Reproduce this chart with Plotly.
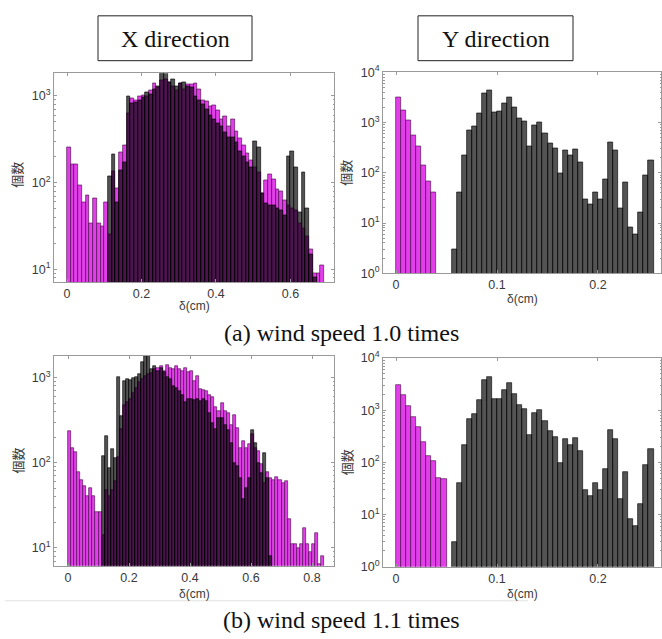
import numpy as np
import plotly.graph_objects as go

W, H = 662, 639

# ---------------- data ----------------
# X direction, bin width 0.01
x10_mag_start = 0.00
x10_mag = [256, 162, 162, 93, 59, 72, 34, 66, 34, 31, 59,
           25, 136, 86, 221, 272, 630, 930, 880, 980, 1020,
           1000, 1150, 1400, 1250, 1500, 1550, 1450, 1300, 1150, 1400,
           1200, 1350, 1350, 1380, 1200, 890, 860, 750, 780, 690,
           530, 580, 450, 530, 390, 320, 270, 215, 180, 150,
           130, 76, 105, 123, 108, 84, 80, 62, 55, 50,
           48, 34, 30, 24, 17, 9, 9, 11]
x10_blk_start = 0.11
x10_blk = [118, 210, 60, 140, 170, 1000, 820, 850, 900, 950,
           1100, 1050, 1200, 1300, 1800, 1900, 1450, 1550, 1300, 1400,
           1450, 1300, 1260, 1000, 890, 800, 700, 600, 530, 480,
           450, 380, 330, 330, 290, 230, 200, 170, 150, 300,
           255, 75, 58, 55, 55, 50, 48, 42, 200, 230,
           150, 45, 130, 50, 15, 8]

x11_mag_start = 0.00
x11_mag = [235, 150, 133, 78, 63, 53, 41, 50, 41, 26, 26,
           14, 48, 40, 48, 60, 116, 250, 470, 520, 565,
           650, 750, 880, 950, 1050, 1100, 1140, 1250, 1300, 1360,
           1200, 1400, 1300, 1250, 1350, 1250, 1200, 1300, 1150, 1190,
           920, 1040, 735, 720, 700, 620, 590, 450, 400, 500,
           400, 380, 280, 365, 255, 150, 180, 150, 165, 215,
           150, 138, 97, 57, 78, 66, 63, 68, 63, 57,
           60, 22, 11, 11, 10, 11, 17, 11, 9, 11,
           15, 6.4, 8]
x11_blk_start = 0.11
x11_blk = [121, 205, 86, 145, 112, 1000, 350, 900, 950, 930,
           980, 1000, 1100, 1500, 1800, 1900, 1250, 1350, 1200, 1300,
           1150, 1000, 950, 800, 750, 700, 620, 520, 560, 560,
           540, 560, 530, 565, 530, 380, 290, 245, 330, 330,
           280, 240, 170, 100, 90, 66, 37, 50, 66, 240,
           170, 100, 75, 130, 66, 8]

# Y direction, bin width 0.005
y_mag_start = 0.0
y10_mag = [3160, 1790, 1090, 560, 340, 138, 66, 40]
y11_mag = [3080, 1960, 1190, 730, 475, 245, 130, 104, 51, 47]
y_blk_start = 0.055
y_blk = [3, 40, 218, 690, 830, 1540, 3820, 4400, 1620, 1650,
         2460, 3250, 2050, 1240, 1070, 330, 870, 1000, 610, 390,
         300, 96, 274, 218, 290, 163, 29, 23, 41, 30,
         75, 410, 274, 20, 65, 8.1, 5.9, 16, 87, 177]

titles = ["X direction", "Y direction"]
captions = ["(a) wind speed 1.0 times", "(b) wind speed 1.1 times"]
xlabel = "δ(cm)"
ylabel = "個数"

# ---------------- styling ----------------
MAG = "#E23FEA"
MAG_LINE = "rgba(60,0,60,0.85)"
BLK = "rgba(0,0,0,0.67)"
BLK_LINE = "rgba(0,0,0,0.9)"
AX = "#9a9a9a"
TXT = "#3a3a3a"
FONT = "Liberation Sans, Arial, sans-serif"
SERIF = "Liberation Serif, Times New Roman, serif"

def centers(start, width, n):
    return start + width * (np.arange(n) + 0.5)

fig = go.Figure()

def add_hist(vals, start, width, color, line, xa, ya):
    fig.add_trace(go.Bar(
        x=centers(start, width, len(vals)), y=vals, width=width,
        marker=dict(color=color, line=dict(color=line, width=0.7)),
        xaxis=xa, yaxis=ya, showlegend=False, hoverinfo="skip"))

add_hist(x10_mag, x10_mag_start, 0.01, MAG, MAG_LINE, "x", "y")
add_hist(x10_blk, x10_blk_start, 0.01, BLK, BLK_LINE, "x", "y")
add_hist(y10_mag, y_mag_start, 0.005, MAG, MAG_LINE, "x2", "y2")
add_hist(y_blk, y_blk_start, 0.005, BLK, BLK_LINE, "x2", "y2")
add_hist(x11_mag, x11_mag_start, 0.01, MAG, MAG_LINE, "x3", "y3")
add_hist(x11_blk, x11_blk_start, 0.01, BLK, BLK_LINE, "x3", "y3")
add_hist(y11_mag, y_mag_start, 0.005, MAG, MAG_LINE, "x4", "y4")
add_hist(y_blk, y_blk_start, 0.005, BLK, BLK_LINE, "x4", "y4")

def px_dom_x(a, b):
    return [a / W, b / W]

def px_dom_y(top, bot):
    return [1 - bot / H, 1 - top / H]

panels = {
    1: dict(xd=(54, 334), yd=(66, 280), xr=[-0.035, 0.717], yr=[0.854, 3.26],
            xt=[0, 0.2, 0.4, 0.6], yt=[1, 2, 3]),
    2: dict(xd=(383, 661), yd=(65, 271), xr=[-0.0129, 0.2624], yr=[0, 4],
            xt=[0, 0.1, 0.2], yt=[0, 1, 2, 3, 4]),
    3: dict(xd=(54, 334), yd=(356, 571), xr=[-0.0459, 0.872], yr=[0.79, 3.252],
            xt=[0, 0.2, 0.4, 0.6, 0.8], yt=[1, 2, 3]),
    4: dict(xd=(383, 661), yd=(358, 572), xr=[-0.0129, 0.2624], yr=[0, 4],
            xt=[0, 0.1, 0.2], yt=[0, 1, 2, 3, 4]),
}

layout = dict(width=W, height=H, margin=dict(l=0, r=0, t=0, b=0),
              paper_bgcolor="white", plot_bgcolor="white",
              barmode="overlay", bargap=0, showlegend=False)

for k, p in panels.items():
    sx = "" if k == 1 else str(k)
    minor_vals = [m * 10 ** e for e in range(-1, 5) for m in range(2, 10)]
    layout["xaxis" + sx] = dict(
        domain=px_dom_x(*p["xd"]), range=p["xr"], anchor="y" + sx,
        tickvals=p["xt"], ticktext=[("0" if v == 0 else f"{v:g}") for v in p["xt"]],
        ticks="inside", ticklen=3, tickcolor=AX, showline=True, linecolor=AX,
        linewidth=1, mirror="ticks", showgrid=False, zeroline=False,
        tickfont=dict(family=FONT, size=12.5, color=TXT))
    layout["yaxis" + sx] = dict(
        domain=px_dom_y(*p["yd"]), type="log", range=p["yr"], anchor="x" + sx,
        tickvals=[10 ** v for v in p["yt"]],
        ticktext=[f"10<sup>{v}</sup>" for v in p["yt"]],
        ticks="inside", ticklen=3, tickcolor=AX, showline=True, linecolor=AX,
        linewidth=1, mirror="ticks", showgrid=False, zeroline=False,
        minor=dict(tickvals=minor_vals, ticks="inside", ticklen=1.5, tickcolor=AX),
        tickfont=dict(family=FONT, size=12.5, color=TXT))

annotations = []
shapes = []

# Title boxes
for txt, (x0, x1) in zip(titles, [(98, 252), (418, 573)]):
    shapes.append(dict(type="rect", xref="paper", yref="paper",
                       x0=x0 / W, x1=x1 / W, y0=1 - 53 / H, y1=1 - 7 / H,
                       line=dict(color="#222", width=1), fillcolor="white"))
    annotations.append(dict(text=txt, xref="paper", yref="paper",
                            x=(x0 + x1) / 2 / W, y=1 - 31 / H, showarrow=False,
                            font=dict(family=SERIF, size=24, color="#111"),
                            xanchor="center", yanchor="middle"))

# captions
for txt, yc in zip(captions, [332, 627]):
    annotations.append(dict(text=txt, xref="paper", yref="paper",
                            x=341 / W, y=1 - yc / H, showarrow=False,
                            font=dict(family=SERIF, size=24, color="#111"),
                            xanchor="center", yanchor="middle"))

# axis labels
for (xc, yc) in [(194, 305), (522, 297), (194, 600), (522, 600)]:
    annotations.append(dict(text=xlabel, xref="paper", yref="paper",
                            x=xc / W, y=1 - yc / H, showarrow=False,
                            font=dict(family=FONT, size=12, color=TXT),
                            xanchor="center", yanchor="middle"))
for (xc, yc) in [(17, 170), (346, 168), (17, 463), (346, 465)]:
    annotations.append(dict(text=ylabel, xref="paper", yref="paper",
                            x=xc / W, y=1 - yc / H, showarrow=False, textangle=-90,
                            font=dict(family="Noto Sans CJK JP", size=13, color=TXT),
                            xanchor="center", yanchor="middle"))

shapes.append(dict(type="line", xref="paper", yref="paper",
                   x0=5 / W, x1=528 / W, y0=1 - 607 / H, y1=1 - 607 / H,
                   line=dict(color="#e2e2e2", width=1)))

layout["annotations"] = annotations
layout["shapes"] = shapes
fig.update_layout(**layout)
fig.write_html("out.html")
